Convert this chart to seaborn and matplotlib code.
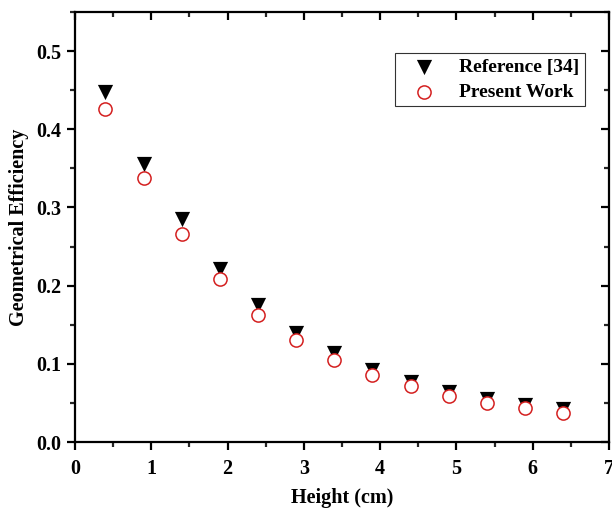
import matplotlib
matplotlib.use('Agg')
import matplotlib.pyplot as plt
import seaborn as sns
import pandas as pd
from matplotlib.ticker import MultipleLocator

# data
height = [0.4, 0.9, 1.4, 1.9, 2.4, 2.9, 3.4, 3.9, 4.4, 4.9, 5.4, 5.9, 6.4]
ref_eff = [0.447, 0.356, 0.285, 0.221, 0.175, 0.139, 0.114, 0.092, 0.077, 0.064, 0.055, 0.047, 0.042]
present_eff = [0.426, 0.338, 0.266, 0.208, 0.163, 0.130, 0.105, 0.086, 0.071, 0.059, 0.050, 0.043, 0.037]

df = pd.DataFrame({'height': height, 'ref': ref_eff, 'present': present_eff})

sns.set_style('ticks')
plt.rcParams['font.family'] = ['Liberation Serif', 'DejaVu Serif']
plt.rcParams['font.weight'] = 'bold'
plt.rcParams['text.color'] = 'black'
plt.rcParams['axes.labelcolor'] = 'black'

fig = plt.figure(figsize=(6.12, 5.12), dpi=100)
ax = fig.add_axes([0.1225, 0.1367, 0.8725, 0.84])

sns.scatterplot(data=df, x='height', y='ref', marker='v', s=120, color='black',
                edgecolor='black', linewidth=0, label='Reference [34]', ax=ax, zorder=2)
sns.scatterplot(data=df, x='height', y='present', marker='o', s=90, facecolor='white',
                edgecolor='#d42020', linewidth=1.1, label='Present Work', ax=ax, zorder=3)

ax.set_xlim(0, 7)
ax.set_ylim(0, 0.55)
ax.xaxis.set_major_locator(MultipleLocator(1))
ax.xaxis.set_minor_locator(MultipleLocator(0.5))
ax.yaxis.set_minor_locator(MultipleLocator(0.05))
ax.set_yticks([0.0, 0.1, 0.2, 0.3, 0.4, 0.5])
ax.set_yticklabels(['0.0', '0.1', '0.2', '0.3', '0.4', '0.5'])

for s in ax.spines.values():
    s.set_visible(True)
    s.set_linewidth(1.6)
    s.set_color('black')

ax.tick_params(which='major', direction='out', length=6, width=1.6, labelsize=14.5,
               colors='black', pad=4)
ax.tick_params(which='minor', direction='out', length=3.5, width=1.6)
ax.tick_params(which='both', top=True, right=True)
ax.tick_params(axis='x', which='major', pad=6)
# top and right ticks point inward
for t in ax.xaxis.get_major_ticks() + ax.xaxis.get_minor_ticks():
    t.tick2line.set_marker(3)
for t in ax.yaxis.get_major_ticks() + ax.yaxis.get_minor_ticks():
    t.tick2line.set_marker(0)

ax.set_xlabel('Height (cm)', fontsize=14.5, fontweight='bold', labelpad=7)
ax.set_ylabel('Geometrical Efficiency', fontsize=14.5, fontweight='bold', labelpad=5)

leg = ax.legend(loc='upper right', bbox_to_anchor=(0.955, 0.905), borderaxespad=0,
                frameon=True, fancybox=False, edgecolor='black', fontsize=14,
                handletextpad=0.6, borderpad=0.3, labelspacing=0.35, handlelength=2.4)
leg.get_frame().set_linewidth(0.8)
for txt in leg.get_texts():
    txt.set_fontweight('bold')

fig.savefig('out.png', dpi=100)
